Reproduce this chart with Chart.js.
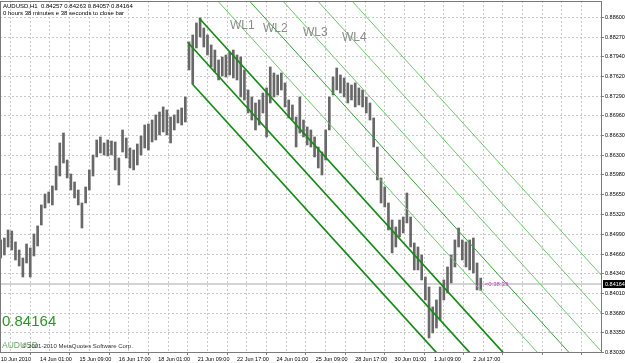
<!DOCTYPE html>
<html><head><meta charset="utf-8">
<script src="https://cdn.jsdelivr.net/npm/chart.js@4.4.1/dist/chart.umd.min.js"></script>
<style>html,body{margin:0;padding:0;background:#fff;}canvas{display:block;}</style>
</head><body>
<canvas id="c" width="625" height="363"></canvas>
<script>
const timeLabels = ["10 Jun 2010","14 Jun 01:00","15 Jun 09:00","16 Jun 17:00","18 Jun 01:00","21 Jun 09:00","22 Jun 17:00","24 Jun 01:00","25 Jun 09:00","28 Jun 17:00","30 Jun 01:00","1 Jul 09:00","2 Jul 17:00"];
const priceLabels = ["0.88600","0.88270","0.87940","0.87620","0.87290","0.86960","0.86630","0.86300","0.85980","0.85650","0.85320","0.84990","0.84660","0.84340","0.84010","0.83680","0.83350","0.83030"];
const barIndex = [0,3,6,9,12,15,18,21,24,27,30,33,36,39,42,45,48,51,54,57,60,63,66,69,72,75,78,81,84,87,90,93,96,99,102,105,108,111,114,117,120,123,126,129,132,135,138,141,144,147,150,153,156,159,162,165,168,171,174,177,180,183,186,189,192,195,198,201,204,207,210,213,216,219,222,225,228,231,234,237,240,243,246,249,252,255,258,261,264,267,270,273,276,279,282,285,288,291,294,297,300,303,306,309,312,315,318,321,324,327,330,333,336,339,342,345,348,351,354,357,360,363,366,369,372,375,378,381,384,387,390];
const highs = [
0.84897,0.84930,0.85063,0.85046,0.84864,0.84730,0.84597,0.84830,0.84764,0.84997,
0.85130,0.85479,0.85662,0.85695,0.85795,0.86127,0.86510,0.86676,0.86227,0.85994,
0.85861,0.85728,0.85512,0.85778,0.86061,0.86310,0.86560,0.86610,0.86510,0.86560,
0.86543,0.86527,0.86260,0.86726,0.86593,0.86427,0.86393,0.86493,0.86626,0.86809,
0.86826,0.86892,0.86976,0.87025,0.87109,0.87059,0.86942,0.86976,0.87059,0.87092,
0.87275,0.88190,0.88306,0.88506,0.88589,0.88422,0.88306,0.88140,0.88056,0.87890,
0.87940,0.87973,0.88023,0.88056,0.87973,0.87940,0.87724,0.87391,0.87275,0.87175,
0.87225,0.87341,0.87425,0.87774,0.87674,0.87641,0.87674,0.87508,0.87225,0.87142,
0.86942,0.87275,0.86892,0.86776,0.86726,0.86610,0.86443,0.86360,0.86726,0.87275,
0.87607,0.87757,0.87641,0.87591,0.87508,0.87474,0.87508,0.87425,0.87391,0.87275,
0.87175,0.86926,0.86443,0.85928,0.85778,0.85512,0.85229,0.85113,0.85229,0.85279,
0.85678,0.85279,0.84847,0.84780,0.84647,0.84281,0.84115,0.83783,0.83899,0.84115,
0.84232,0.84448,0.84647,0.84897,0.85096,0.84897,0.84864,0.84897,0.84930,0.84514,
0.84263];
const lows = [
0.84597,0.84647,0.84780,0.84730,0.84564,0.84464,0.84281,0.84514,0.84281,0.84631,
0.84797,0.85146,0.85429,0.85512,0.85479,0.85728,0.85961,0.86177,0.85928,0.85728,
0.85595,0.85479,0.85096,0.85512,0.85728,0.85961,0.86277,0.86344,0.86310,0.86294,
0.86310,0.86061,0.85811,0.86360,0.86260,0.86094,0.86061,0.86144,0.86310,0.86427,
0.86393,0.86527,0.86560,0.86643,0.86693,0.86643,0.86510,0.86726,0.86843,0.86809,
0.86859,0.87724,0.87491,0.88090,0.88273,0.88106,0.87973,0.87774,0.87691,0.87558,
0.87624,0.87607,0.87641,0.87591,0.87558,0.87275,0.87225,0.87009,0.86892,0.86726,
0.86809,0.87009,0.86610,0.87175,0.87275,0.87308,0.87391,0.87109,0.86926,0.86892,
0.86443,0.86676,0.86610,0.86477,0.86443,0.86277,0.86094,0.85978,0.86227,0.86726,
0.87308,0.87391,0.87341,0.87275,0.87175,0.87225,0.87109,0.87142,0.87109,0.87009,
0.86892,0.86443,0.85895,0.85512,0.85446,0.85063,0.84681,0.84780,0.84947,0.85013,
0.85180,0.84780,0.84398,0.84398,0.84232,0.83899,0.83267,0.83350,0.83433,0.83566,
0.83899,0.84015,0.84182,0.84448,0.84780,0.84564,0.84448,0.84398,0.84348,0.84065,
0.84057];
const lastPrice = 0.84164;
const lastBar = 390;
// channel lines: [bar, price] end points
const dark1 = [[161.3,0.88584],[470,0.81632]];
const dark2 = [[151.9,0.88185],[470,0.81020]];
const dark3 = [[155.7,0.87491],[470,0.80412]];
const wl1 = [[150,0.89465],[500,0.81586]];
const wl2 = [[150,0.90044],[500,0.82164]];
const wl3 = [[150,0.90654],[500,0.82773]];
const wl4 = [[150,0.91294],[500,0.83413]];
const wl5 = [[150,0.91920],[500,0.84039]];
const wlNames = ["WL1","WL2","WL3","WL4"];

const F = 'Liberation Sans';
function lineDs(pts, color, w){
  return {type:'line', data: pts.map(p=>({x:p[0], y:p[1]})), borderColor:color, borderWidth:w, pointRadius:0, order:1, tension:0};
}

const overlay = {
  id:'overlay',
  beforeDraw(chart){
    const {ctx,width,height} = chart;
    ctx.save(); ctx.fillStyle='#fff'; ctx.fillRect(0,0,width,height); ctx.restore();
  },
  afterDatasetsDraw(chart){
    const {ctx, chartArea:a, scales:{x,y}} = chart;
    ctx.save();
    ctx.strokeStyle='#7a7a7a'; ctx.lineWidth=1;
    ctx.strokeRect(a.left+0.5, a.top+0.5, a.right-a.left-1, a.bottom-a.top-1);
    ctx.textBaseline='middle'; ctx.textAlign='left';
    ctx.fillStyle='#000'; ctx.font='6px "'+F+'"';
    ctx.fillText('AUDUSD,H1  0.84257 0.84263 0.84057 0.84164', 3, 6);
    ctx.fillText('0 hours 38 minutes e 38 seconds to close bar', 3, 13);
    const wlPos = [[186.3,0.88456],[213.1,0.88406],[245.6,0.88348],[277.3,0.88264]];
    ctx.fillStyle='#8c8c8c'; ctx.font='12px "'+F+'"';
    wlNames.forEach((n,i)=>ctx.fillText(n, x.getPixelForValue(wlPos[i][0]), y.getPixelForValue(wlPos[i][1])));
    const py = y.getPixelForValue(lastPrice);
    ctx.fillStyle='#c040c0'; ctx.font='6px "'+F+'"';
    ctx.fillText('<0:38:33', x.getPixelForValue(lastBar)+4, py);
    ctx.fillStyle='#2f922f'; ctx.font='15px "'+F+'"';
    ctx.fillText(lastPrice.toFixed(5), 2, 322);
    ctx.fillStyle='rgba(70,160,70,0.85)'; ctx.font='8.5px "'+F+'"';
    ctx.fillText('AUDUSD', 2, 346);
    ctx.fillStyle='#333'; ctx.font='6px "'+F+'"';
    ctx.fillText('\u00A9 2001-2010 MetaQuotes Software Corp.', 22, 346);
    ctx.fillStyle='#000'; ctx.fillRect(a.right+1, py-4, 23, 8);
    ctx.fillStyle='#fff'; ctx.font='5.5px "'+F+'"';
    ctx.fillText(lastPrice.toFixed(5), a.right+3, py);
    ctx.restore();
  }
};

new Chart(document.getElementById('c'), {
  type:'bar',
  data:{datasets:[
    {type:'line', data:[{x:-1,y:lastPrice},{x:489,y:lastPrice}], borderColor:'#a8a8a8', borderWidth:1, pointRadius:0, order:3},
    {type:'bar', data: barIndex.map((b,i)=>({x:b, y:[lows[i], highs[i]]})), backgroundColor:'#686868', borderWidth:0, barThickness:2, order:2},
    lineDs(dark1,'#178a17',1.7), lineDs(dark2,'#178a17',1.7), lineDs(dark3,'#178a17',1.7),
    lineDs(wl1,'#72c472',1), lineDs(wl2,'#3a9e3a',1), lineDs(wl3,'#72c472',1), lineDs(wl4,'#72c472',1), lineDs(wl5,'#72c472',1)
  ]},
  options:{
    responsive:false, devicePixelRatio:1, animation:false,
    layout:{padding:{left:0,right:0,top:1,bottom:0}},
    plugins:{legend:{display:false}, tooltip:{enabled:false}},
    scales:{
      x:{type:'linear', min:-0.57, max:488.5, offset:false, position:'bottom',
        afterBuildTicks: s => { const t=[]; for(let v=0; v<=s.max; v+=16) t.push({value:v}); s.ticks=t; },
        afterFit: s => { s.height=10; s.paddingLeft=0; s.paddingRight=0; },
        grid:{color:'#c8c8c8', lineWidth:1, drawTicks:true, tickLength:2,
          tickColor: c => (c.tick && c.tick.value % 32 === 0) ? '#808080' : 'rgba(0,0,0,0)'},
        border:{display:false, dash:[2,2]},
        ticks:{autoSkip:false, maxRotation:0, minRotation:0, align:'start', padding:1,
          font:{family:F, size:5.5}, color:'#000',
          callback: v => (v % 32 === 0 && timeLabels[v/32]) ? timeLabels[v/32] : ''}
      },
      y:{type:'linear', position:'right', min:0.83017, max:0.88871,
        afterBuildTicks: s => { s.ticks = priceLabels.map(t=>({value:parseFloat(t)})); },
        afterFit: s => { s.width=23; s.paddingTop=0; s.paddingBottom=0; },
        grid:{color:'#c8c8c8', lineWidth:1, tickLength:2, tickColor:'#808080'},
        border:{display:false, dash:[2,2]},
        ticks:{padding:1, font:{family:F, size:5.5}, color:'#000', callback: v => v.toFixed(5)}
      }
    }
  },
  plugins:[overlay]
});
</script>
</body></html>
